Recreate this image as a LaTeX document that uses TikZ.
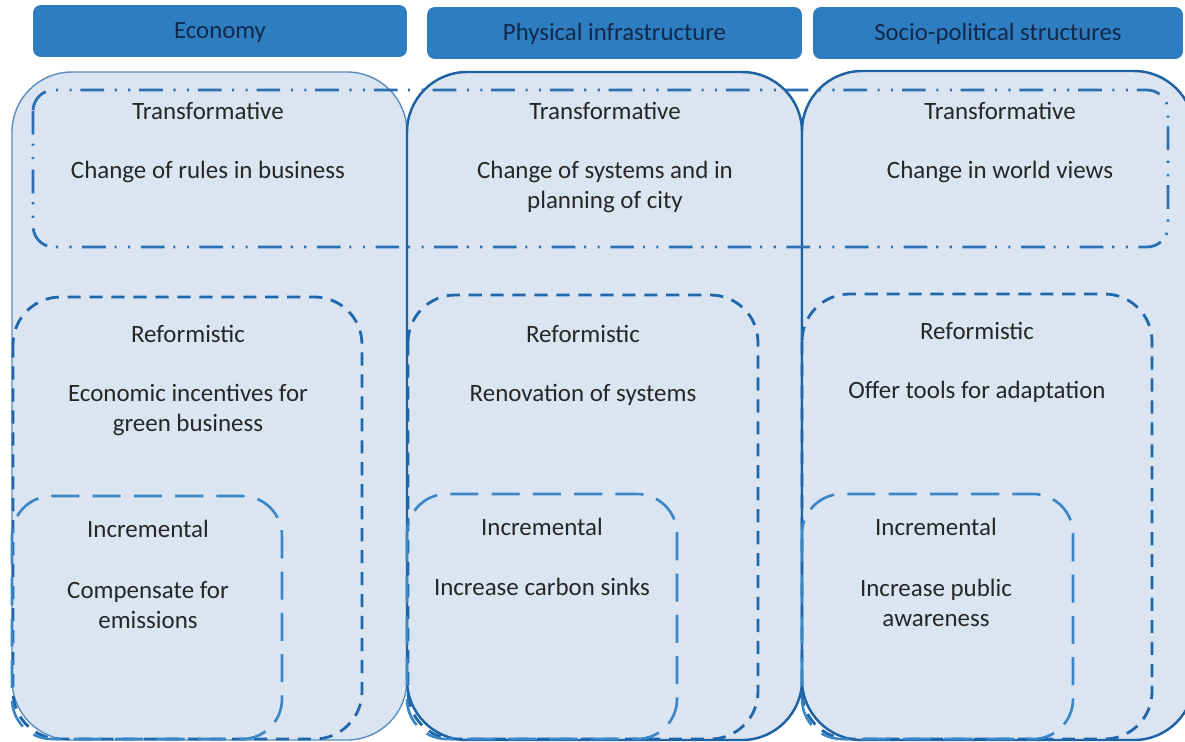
\documentclass[tikz,border=0pt]{standalone}
\usepackage{fontspec}
\setmainfont{Carlito}

\definecolor{panel}{HTML}{DBE5F1}
\definecolor{headfill}{HTML}{2F7DC1}
\definecolor{headtext}{HTML}{10294A}
\definecolor{thinline}{HTML}{5B8DC0}
\definecolor{pillarline}{HTML}{1F62A4}
\definecolor{transline}{HTML}{2A70B2}
\definecolor{reformline}{HTML}{1F66AB}
\definecolor{incline}{HTML}{3A86C7}
\definecolor{txt}{HTML}{262626}

\tikzset{
  head/.style={fill=headfill, rounded corners=4.5pt, minimum height=1.04cm, inner sep=0pt,
    text height=9.1pt, text depth=0pt, text=headtext, font=\fontsize{14.1}{17}\selectfont},
  pillar/.style={fill=panel, rounded corners=1.2cm},
  transbox/.style={draw=transline, line width=1.6pt, rounded corners=0.42cm,
    dash pattern=on 13.5pt off 5pt on 1.2pt off 6.5pt on 1.2pt off 6pt},
  reformbox/.style={draw=reformline, line width=1.6pt, rounded corners=0.95cm,
    dash pattern=on 7.5pt off 5pt},
  incbox/.style={draw=incline, line width=1.5pt, rounded corners=0.8cm,
    dash pattern=on 16pt off 7.5pt},
  lbl/.style={text=txt, align=center, font=\fontsize{14.2}{17}\selectfont}
}

\begin{document}
\begin{tikzpicture}[x=0.02cm, y=-0.02cm]
  \fill[white] (0,0) rectangle (1185,741);
  \useasboundingbox (0,0) rectangle (1185,741);

  % headers
  \node[head, minimum width=7.48cm] (ecohead) at (220,31) {Economy};
  \node[head, minimum width=7.5cm] (infhead) at (614.5,33) {Physical infrastructure};
  \node[head, minimum width=7.4cm] (sochead) at (998,33) {Socio-political structures};

  % columns
  \draw[pillar, draw=thinline, line width=0.8pt] (12,72) rectangle (407,740);
  \draw[pillar, draw=pillarline, line width=1.4pt] (407,72) rectangle (802,740);
  \draw[pillar, draw=pillarline, line width=1.4pt] (802,71) rectangle (1194,740);

  % transformative level, across all columns
  \draw[transbox] (33,90) rectangle (1168,247);

  % reformistic level
  \draw[reformbox] (13,297) rectangle (362,739);
  \draw[reformbox] (408,295) rectangle (758,739);
  \draw[reformbox] (802,294) rectangle (1152,739);

  % incremental level
  \draw[incbox] (12,496) rectangle (282,739);
  \draw[incbox] (407,494) rectangle (677,739);
  \draw[incbox] (802,494) rectangle (1073,739);

  % economy
  \node[lbl] (ecotr) at (208,111) {Transformative};
  \node[lbl] (ecotrx) at (208,172) {Change of rules in business};
  \node[lbl] (ecoref) at (188,334) {Reformistic};
  \node[lbl] (ecorefx) at (188,410) {Economic incentives for\\green business};
  \node[lbl] (ecoinc) at (148,529) {Incremental};
  \node[lbl] (ecoincx) at (148,605) {Compensate for\\emissions};

  % physical infrastructure
  \node[lbl] (inftr) at (605,111) {Transformative};
  \node[lbl] (inftrx) at (605,187) {Change of systems and in\\planning of city};
  \node[lbl] (infref) at (583,334) {Reformistic};
  \node[lbl] (infrefx) at (583,395) {Renovation of systems};
  \node[lbl] (infinc) at (542,527) {Incremental};
  \node[lbl] (infincx) at (542,587) {Increase carbon sinks};

  % socio-political structures
  \node[lbl] (soctr) at (1000,111) {Transformative};
  \node[lbl] (soctrx) at (1000,172) {Change in world views};
  \node[lbl] (socref) at (977,331) {Reformistic};
  \node[lbl] (socrefx) at (977,392) {Offer tools for adaptation};
  \node[lbl] (socinc) at (936,527) {Incremental};
  \node[lbl] (socincx) at (936,603) {Increase public\\awareness};
\end{tikzpicture}
\end{document}
